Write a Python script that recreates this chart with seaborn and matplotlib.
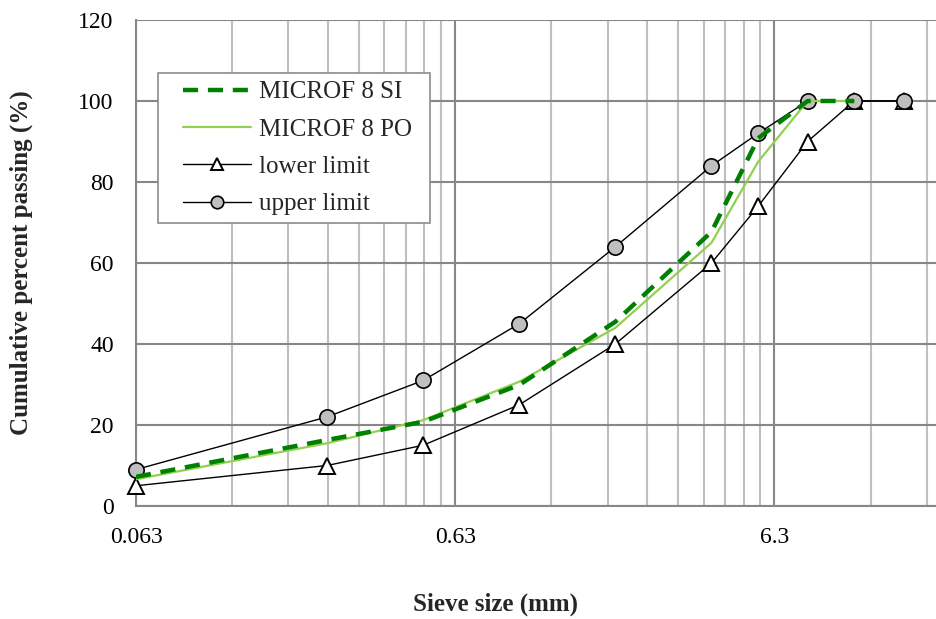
import numpy as np
import pandas as pd
import matplotlib
matplotlib.use("Agg")
import matplotlib.pyplot as plt
from matplotlib.patches import Rectangle
import seaborn as sns

# Sieve sizes (mm) and cumulative percent passing
sieve_limits = [0.063, 0.25, 0.5, 1.0, 2.0, 4.0, 5.6, 8.0, 11.2, 16.0]
lower_limit = [5, 10, 15, 25, 40, 60, 74, 90, 100, 100]
upper_limit = [9, 22, 31, 45, 64, 84, 92, 100, 100, 100]

sieve_mix = [0.063, 0.25, 0.5, 1.0, 2.0, 4.0, 5.6, 8.0, 11.2]
microf_si = [7.2, 16.3, 20.8, 29.9, 45.5, 67.7, 90.8, 100, 100]
microf_po = [6.6, 15.5, 21.2, 30.7, 44.0, 65.0, 85.0, 100, 100]

x_tick_values = [0.063, 0.63, 6.3]
x_tick_labels = ["0.063", "0.63", "6.3"]
y_tick_values = [0, 20, 40, 60, 80, 100, 120]

sns.set_style("white")
plt.rcParams["font.family"] = ["Liberation Serif", "DejaVu Serif"]

fig = plt.figure(figsize=(9.36, 6.19), dpi=100)
ax = fig.add_axes([136 / 936, 1 - 506 / 619, 800 / 936, 486 / 619])

major_grey = "#878787"
minor_grey = "#bfbfbf"

sns.lineplot(x=sieve_limits, y=lower_limit, ax=ax, color="black", lw=1.0,
             marker="^", markersize=11, markerfacecolor="white",
             markeredgecolor="black", markeredgewidth=1.4,
             label="lower limit", zorder=3, sort=False, clip_on=False)
sns.lineplot(x=sieve_limits, y=upper_limit, ax=ax, color="black", lw=1.0,
             marker="o", markersize=11, markerfacecolor="#bfbfbf",
             markeredgecolor="black", markeredgewidth=1.2,
             label="upper limit", zorder=4, sort=False, clip_on=False)
sns.lineplot(x=sieve_mix, y=microf_po, ax=ax, color="#92d050", lw=1.6,
             label="MICROF 8 PO", zorder=5, sort=False)
sns.lineplot(x=sieve_mix, y=microf_si, ax=ax, color="#008000", lw=3.2,
             linestyle=(0, (3.4, 2.2)), label="MICROF 8 SI", zorder=6,
             sort=False)

ax.set_xscale("log")
ax.set_xlim(0.063, 20.2)
ax.set_ylim(0, 120)

# minor grid at multiples of each decade start
minor_pos = []
for base in [0.063, 0.63, 6.3]:
    for k in range(2, 10):
        v = base * k
        if v < 20.2:
            minor_pos.append(v)
ax.set_xticks(x_tick_values)
ax.set_xticklabels(x_tick_labels)
ax.set_xticks(minor_pos, minor=True)
ax.set_xticklabels([], minor=True)
ax.set_yticks(y_tick_values)

ax.grid(True, which="major", axis="both", color=major_grey, lw=1.5, zorder=0)
ax.grid(True, which="minor", axis="x", color=minor_grey, lw=1.5, zorder=0)
ax.set_axisbelow(True)

for side in ["top", "right"]:
    ax.spines[side].set_visible(False)
for side in ["left", "bottom"]:
    ax.spines[side].set_color(major_grey)
    ax.spines[side].set_linewidth(1.5)

ax.tick_params(axis="both", which="major", labelsize=17, colors="black",
               length=6, width=1.2, direction="out")
ax.tick_params(axis="x", which="major", color=major_grey, pad=9)
ax.tick_params(axis="y", which="major", color=major_grey, pad=10)
ax.tick_params(axis="x", which="minor", length=0)

ax.set_xlabel("Sieve size (mm)", fontsize=18, fontweight="bold")
ax.set_ylabel("Cumulative percent passing (%)", fontsize=18, fontweight="bold")
ax.xaxis.label.set_va("center")
ax.yaxis.label.set_va("center")
ax.xaxis.set_label_coords(0.449, -(604 - 506) / 486)
ax.yaxis.set_label_coords(-(136 - 21) / 800, 0.5)

handles, labels = ax.get_legend_handles_labels()
order = ["MICROF 8 SI", "MICROF 8 PO", "lower limit", "upper limit"]
hmap = dict(zip(labels, handles))
leg = ax.legend([hmap[k] for k in order], order, loc="upper left",
                bbox_to_anchor=(39.5 / 800, 1 - 53.5 / 486), fontsize=18,
                frameon=False, handlelength=2.7, borderpad=0.3,
                labelspacing=0.59, handletextpad=0.35, borderaxespad=0)
leg.set_zorder(10)
for h in leg.legend_handles:
    if hasattr(h, "set_markersize"):
        h.set_markersize(9)

# legend frame with a wider left margin
fig.canvas.draw()
bb = leg.get_window_extent().transformed(ax.transAxes.inverted())
pad_left = 17.5 / 800
pad_right = 10 / 800
frame = Rectangle((bb.x0 - pad_left, bb.y0), bb.width + pad_left + pad_right,
                  bb.height, transform=ax.transAxes, facecolor="white",
                  edgecolor="#8c8c8c", lw=1.2, zorder=9)
ax.add_patch(frame)

fig.savefig("out.png", dpi=100)
